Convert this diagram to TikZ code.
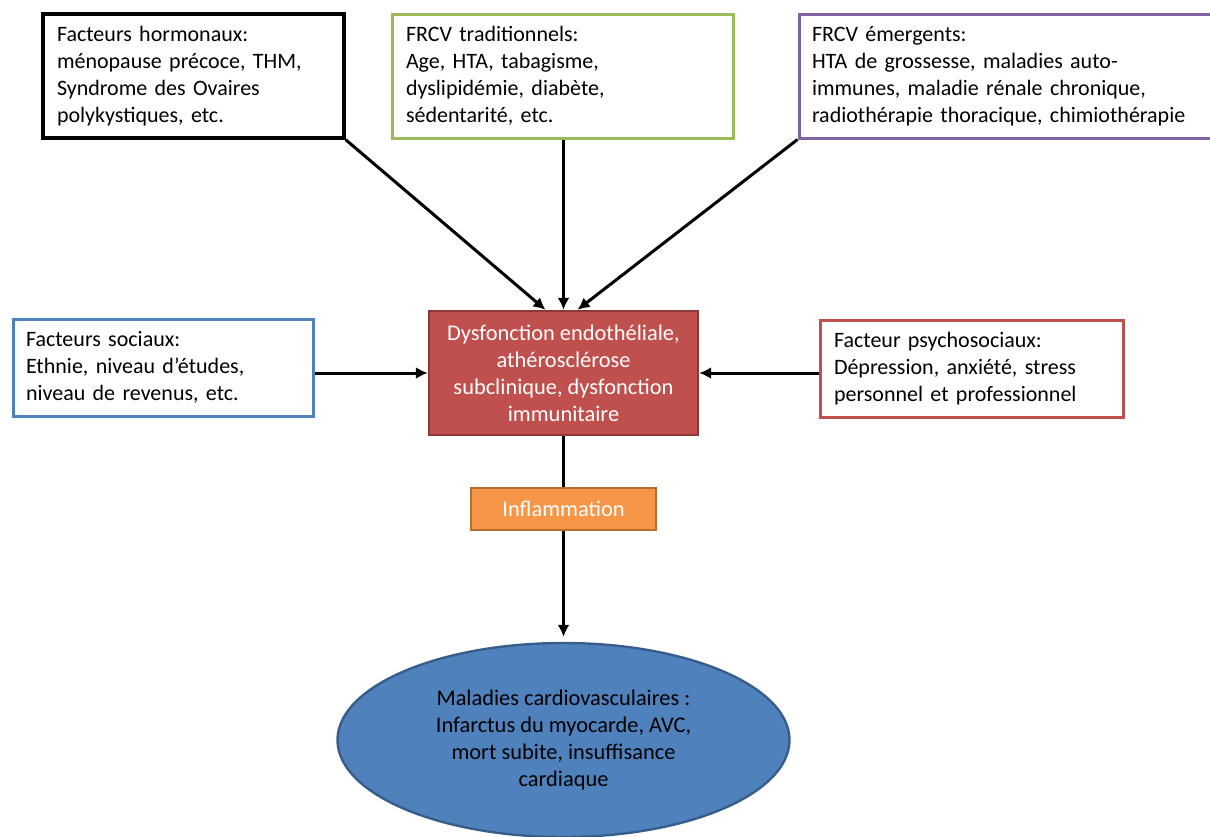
\documentclass[tikz,border=0pt]{standalone}
\usepackage{fontspec}
\setmainfont{Carlito}
\usepackage{xcolor}
\usepackage{tikz}
\usetikzlibrary{shapes,shapes.geometric,arrows,arrows.meta}
\usetikzlibrary{calc}
\definecolor{officered}{HTML}{C0504D}
\definecolor{officereddark}{HTML}{8C3836}
\definecolor{officegreen}{HTML}{9BBB59}
\definecolor{officepurple}{HTML}{8064A2}
\definecolor{officeblue}{HTML}{4F81BD}
\definecolor{officebluedark}{HTML}{385D8A}
\definecolor{officeorange}{HTML}{F79646}
\definecolor{officeorangedark}{HTML}{B66D31}
\tikzset{
    facteur/.style={draw, line width=1.5pt, fill=white, align=left, inner xsep=7pt,
        font=\fontsize{11}{13.5}\selectfont, minimum height=#1},
    facteur/.default={62pt},
    centre/.style={draw=officereddark, line width=1.2pt, fill=officered, text=white, align=center,
        font=\fontsize{11.2}{13.5}\selectfont},
    fleche/.style={-{Latex[length=6pt,width=6pt]}, line width=1.5pt}}

\begin{document}
\begin{tikzpicture}[x=0.5pt,y=-0.5pt]
\useasboundingbox (0,0) rectangle (1210,836);
% facteurs du haut
\node[facteur, draw=black, line width=1.8pt, text width=136.5pt, minimum width=150.5pt] (hormo) at (193.5,76)
  {Facteurs hormonaux:\\ménopause précoce, THM,\\Syndrome des Ovaires\\polykystiques, etc.};
\node[facteur, draw=officegreen, text width=156.5pt, minimum width=170.5pt] (trad) at (562.5,76)
  {FRCV traditionnels:\\Age, HTA, tabagisme,\\dyslipidémie, diabète,\\sédentarité, etc.};
\node[facteur, draw=officepurple, text width=200pt, minimum width=213pt, inner xsep=6.5pt] (emerg) at (1012,76)
  {FRCV émergents:\\HTA de grossesse, maladies auto-\\immunes, maladie rénale chronique,\\radiothérapie thoracique, chimiothérapie};
% facteurs lateraux
\node[facteur=48.5pt, draw=officeblue, text width=137pt, minimum width=150pt, inner xsep=6.5pt] (soc) at (163,367.5)
  {Facteurs sociaux:\\Ethnie, niveau d’études,\\niveau de revenus, etc.};
\node[facteur=48.5pt, draw=officered, text width=137.5pt, minimum width=151.5pt] (psy) at (971.5,368.5)
  {Facteur psychosociaux:\\Dépression, anxiété, stress\\personnel et professionnel};
% centre
\node[centre, minimum width=134.5pt, minimum height=62pt] (dysf) at (563.5,373)
  {Dysfonction endothéliale,\\athérosclérose\\subclinique, dysfonction\\immunitaire};
\node[centre, draw=officeorangedark, fill=officeorange, minimum width=92.5pt, minimum height=21pt] (infl) at (563.5,509)
  {Inflammation};
\node[ellipse, draw=officebluedark, line width=1.2pt, fill=officeblue, align=center,
  font=\fontsize{11.2}{13.5}\selectfont, minimum width=226pt, minimum height=97pt] (mcv) at (563.5,740)
  {Maladies cardiovasculaires :\\Infarctus du myocarde, AVC,\\mort subite, insuffisance\\cardiaque};
% fleches
\draw[fleche] (hormo.south east) -- ([xshift=-9pt]dysf.north);
\draw[fleche] (trad.south -| dysf.north) -- (dysf.north);
\draw[fleche] (emerg.south west) -- ([xshift=7pt]dysf.north);
\draw[fleche] (soc.east |- dysf.west) -- (dysf.west);
\draw[fleche] (psy.west |- dysf.east) -- (dysf.east);
\draw[line width=1.5pt] (dysf.south) -- (infl.north);
\draw[fleche, shorten >=2.5pt] (infl.south) -- (mcv.north);
\end{tikzpicture}
\end{document}
